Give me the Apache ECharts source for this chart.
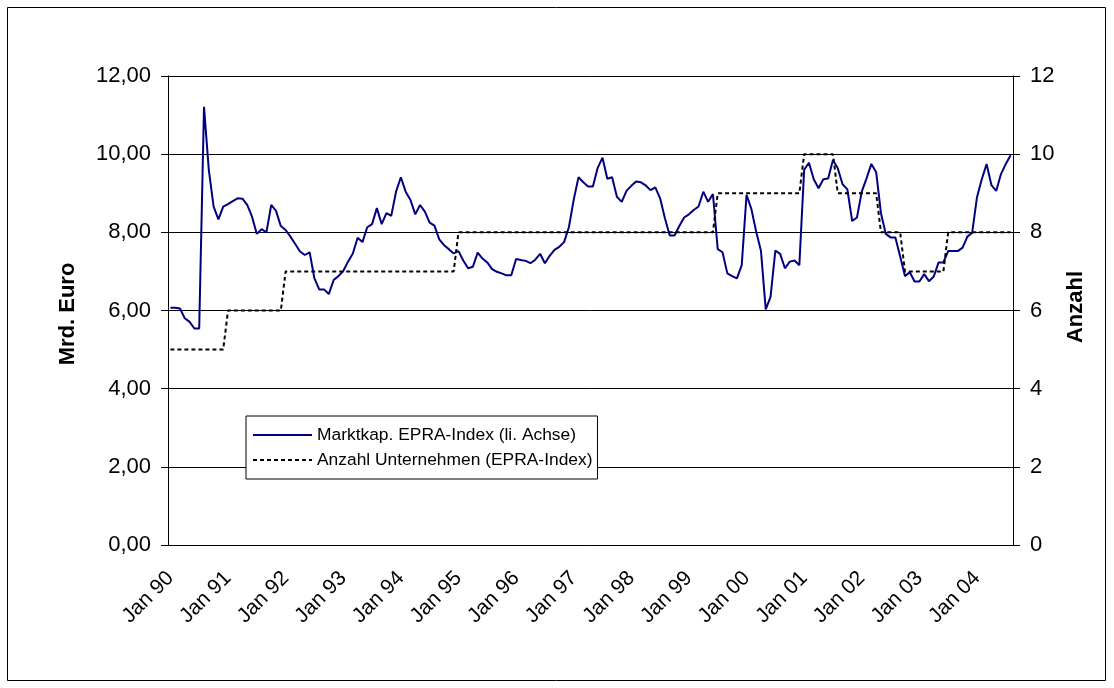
<!DOCTYPE html>
<html>
<head>
<meta charset="utf-8">
<script src="https://cdn.jsdelivr.net/npm/echarts@6/dist/echarts.min.js"></script>
<style>
    html, body { margin: 0; padding: 0; background: #fff; }
    #chart { width: 1114px; height: 688px; }
</style>
</head>
<body>
<div id="chart"></div>
<script>
// Monatswerte Jan 90 - Aug 04
var monthNames = ["Jan", "Feb", "Mrz", "Apr", "Mai", "Jun", "Jul", "Aug", "Sep", "Okt", "Nov", "Dez"];
var years = ["90", "91", "92", "93", "94", "95", "96", "97", "98", "99", "00", "01", "02", "03", "04"];

// Marktkapitalisierung EPRA-Index, Mrd. Euro (linke Achse)
var marktkap = [
    6.07, 6.07, 6.05, 5.80, 5.71, 5.54, 5.54, 11.21, 9.60, 8.66, 8.33, 8.66,
    8.72, 8.80, 8.87, 8.86, 8.70, 8.40, 7.96, 8.08, 8.00, 8.70, 8.55, 8.16,
    8.06, 7.89, 7.70, 7.51, 7.42, 7.49, 6.82, 6.54, 6.54, 6.42, 6.78, 6.88,
    7.01, 7.25, 7.46, 7.86, 7.75, 8.13, 8.21, 8.62, 8.21, 8.49, 8.42, 9.04,
    9.41, 9.04, 8.83, 8.46, 8.70, 8.53, 8.25, 8.17, 7.82, 7.67, 7.57, 7.46,
    7.52, 7.28, 7.08, 7.12, 7.48, 7.33, 7.23, 7.06, 6.99, 6.95, 6.90, 6.90,
    7.32, 7.29, 7.27, 7.21, 7.30, 7.45, 7.21, 7.40, 7.55, 7.63, 7.75, 8.13,
    8.83, 9.41, 9.28, 9.17, 9.17, 9.65, 9.91, 9.37, 9.41, 8.91, 8.78, 9.06,
    9.19, 9.30, 9.28, 9.20, 9.08, 9.15, 8.87, 8.36, 7.92, 7.92, 8.16, 8.38,
    8.46, 8.57, 8.66, 9.04, 8.78, 8.98, 7.57, 7.49, 6.95, 6.88, 6.82, 7.16,
    8.96, 8.60, 8.02, 7.53, 6.03, 6.35, 7.53, 7.45, 7.08, 7.25, 7.28, 7.16,
    9.60, 9.78, 9.36, 9.13, 9.36, 9.38, 9.85, 9.64, 9.23, 9.10, 8.29, 8.38,
    9.04, 9.38, 9.75, 9.54, 8.49, 7.96, 7.87, 7.87, 7.38, 6.88, 6.98, 6.74,
    6.74, 6.93, 6.75, 6.87, 7.23, 7.23, 7.52, 7.52, 7.52, 7.61, 7.89, 7.99,
    8.90, 9.36, 9.75, 9.21, 9.06, 9.49, 9.75, 9.97
];

// Anzahl Unternehmen im EPRA-Index (rechte Achse)
var anzahl = [
    5, 5, 5, 5, 5, 5, 5, 5, 5, 5, 5, 5,
    6, 6, 6, 6, 6, 6, 6, 6, 6, 6, 6, 6,
    7, 7, 7, 7, 7, 7, 7, 7, 7, 7, 7, 7,
    7, 7, 7, 7, 7, 7, 7, 7, 7, 7, 7, 7,
    7, 7, 7, 7, 7, 7, 7, 7, 7, 7, 7, 7,
    8, 8, 8, 8, 8, 8, 8, 8, 8, 8, 8, 8,
    8, 8, 8, 8, 8, 8, 8, 8, 8, 8, 8, 8,
    8, 8, 8, 8, 8, 8, 8, 8, 8, 8, 8, 8,
    8, 8, 8, 8, 8, 8, 8, 8, 8, 8, 8, 8,
    8, 8, 8, 8, 8, 8, 9, 9, 9, 9, 9, 9,
    9, 9, 9, 9, 9, 9, 9, 9, 9, 9, 9, 9,
    10, 10, 10, 10, 10, 10, 10, 9, 9, 9, 9, 9,
    9, 9, 9, 9, 8, 8, 8, 8, 8, 7, 7, 7,
    7, 7, 7, 7, 7, 7, 8, 8, 8, 8, 8, 8,
    8, 8, 8, 8, 8, 8, 8, 8
];

var seriesNames = ["Marktkap. EPRA-Index (li. Achse)", "Anzahl Unternehmen (EPRA-Index)"];

// Kategorien "Jan 90", "Feb 90", ...
var categories = [];
for (var y = 0; y < years.length; y++) {
    for (var m = 0; m < 12; m++) {
        if (categories.length < marktkap.length) {
            categories.push(monthNames[m] + " " + years[y]);
        }
    }
}

(function() {
    var font = "Liberation Sans, Arial, sans-serif";
    var myChart = echarts.init(document.getElementById("chart"));
    var option = {
        animation: false,
        backgroundColor: "#fff",
        textStyle: { fontFamily: font, color: "#000" },
        // Rahmen um das Diagramm
        graphic: [{
            type: "rect",
            shape: { x: 7.5, y: 7.5, width: 1098, height: 673 },
            style: { fill: "none", stroke: "#000", lineWidth: 1 },
            silent: true
        }],
        grid: {
            left: 168,
            right: 101,
            top: 76,
            bottom: 143
        },
        legend: {
            orient: "vertical",
            left: 246,
            top: 416,
            padding: [9, 5, 9, 6],
            itemGap: 5,
            itemWidth: 59,
            itemHeight: 14,
            backgroundColor: "#fff",
            borderColor: "#000",
            borderWidth: 1,
            // nur die Linie zeigen, keinen Punkt
            itemStyle: { opacity: 0 },
            textStyle: { fontFamily: font, fontSize: 17.4, color: "#000", lineHeight: 20 },
            data: seriesNames
        },
        xAxis: {
            type: "category",
            boundaryGap: true,
            data: categories,
            axisLine: { lineStyle: { color: "#000", width: 1 } },
            axisTick: { interval: 11, length: 6, lineStyle: { color: "#000" } },
            axisLabel: {
                interval: 11,
                rotate: 45,
                margin: 30,
                fontSize: 21,
                color: "#000",
                fontFamily: font
            },
            splitLine: { show: false }
        },
        yAxis: [{
            type: "value",
            min: 0,
            max: 12,
            interval: 2,
            name: "Mrd. Euro",
            nameLocation: "middle",
            nameRotate: 90,
            nameGap: 89,
            nameTextStyle: { fontFamily: font, fontSize: 22, fontWeight: "bold", color: "#000", padding: [0, 7, 0, 0] },
            axisLine: { show: true, lineStyle: { color: "#000", width: 1 } },
            axisTick: { show: true, length: 7, lineStyle: { color: "#000" } },
            axisLabel: {
                margin: 17,
                fontSize: 22,
                color: "#000",
                fontFamily: font,
                formatter: function(v) { return v.toFixed(2).replace(".", ","); }
            },
            splitLine: { show: true, lineStyle: { color: "#000", width: 1 } }
        }, {
            type: "value",
            min: 0,
            max: 12,
            interval: 2,
            position: "right",
            name: "Anzahl",
            nameLocation: "middle",
            nameRotate: 90,
            nameGap: 51,
            nameTextStyle: { fontFamily: font, fontSize: 22, fontWeight: "bold", color: "#000", padding: [0, 0, 0, 7] },
            axisLine: { show: true, lineStyle: { color: "#000", width: 1 } },
            axisTick: { show: true, length: 7, lineStyle: { color: "#000" } },
            axisLabel: { margin: 17, fontSize: 22, color: "#000", fontFamily: font },
            splitLine: { show: false }
        }],
        series: [{
            name: seriesNames[0],
            type: "line",
            yAxisIndex: 0,
            data: marktkap,
            symbol: "none",
            lineStyle: { color: "#000080", width: 2 },
            itemStyle: { color: "#000080" }
        }, {
            name: seriesNames[1],
            type: "line",
            yAxisIndex: 1,
            data: anzahl,
            symbol: "none",
            lineStyle: { color: "#000", width: 2, type: [4, 3] },
            itemStyle: { color: "#000" }
        }]
    };
    myChart.setOption(option);
})();
</script>
</body>
</html>
